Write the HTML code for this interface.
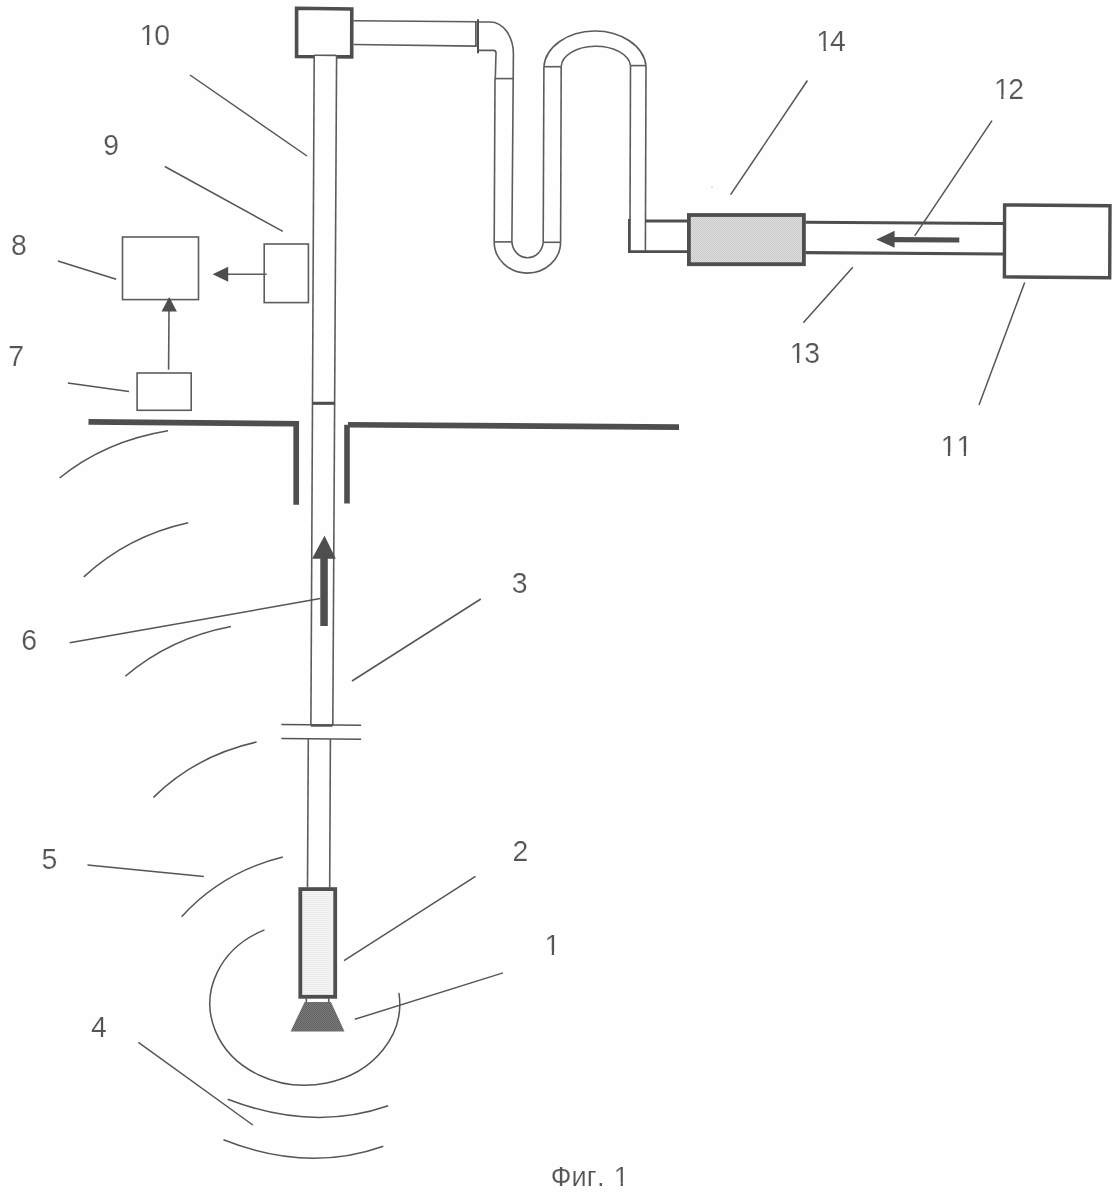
<!DOCTYPE html>
<html lang="ru">
<head>
<meta charset="utf-8">
<title>Фиг. 1</title>
<style>
html,body{margin:0;padding:0;background:#fefefe;}
body{width:1116px;height:1193px;overflow:hidden;}
svg{display:block;will-change:transform;}
text{font-family:"Liberation Sans",sans-serif;fill:#555;stroke:#fefefe;stroke-width:0.2px;stroke-linejoin:bevel;}
.n{font-size:29.3px;}
.c{font-size:27.2px;}
.t{fill:none;stroke:#5c5c5c;stroke-width:1.6;stroke-linecap:butt;}
.l{fill:none;stroke:#555;stroke-width:1.5;}
.k{fill:none;stroke:#4e4e4e;}
</style>
</head>
<body>
<svg width="1116" height="1193" viewBox="0 0 1116 1193">
<defs>
<pattern id="stA" width="2" height="2" patternUnits="userSpaceOnUse"><rect width="2" height="2" fill="#dedede"/><rect width="1" height="1" fill="#cacaca"/><rect x="1" y="1" width="1" height="1" fill="#cacaca"/></pattern>
<pattern id="stB" width="2" height="2" patternUnits="userSpaceOnUse"><rect width="2" height="2" fill="#f4f4f4"/><rect width="2" height="1" fill="#ececec"/></pattern>
<pattern id="stC" width="2" height="2" patternUnits="userSpaceOnUse"><rect width="2" height="2" fill="#7c7c7c"/><rect width="1" height="1" fill="#606060"/><rect x="1" y="1" width="1" height="1" fill="#606060"/></pattern>
</defs>
<rect width="1116" height="1193" fill="#fefefe"/>

<!-- ===== top box ===== -->
<g id="topbox">
<polygon points="296.6,8.3 351.8,9 351.7,56.9 296.6,56.5" class="k" stroke-width="3.6"/>
</g>

<!-- ===== vertical pipe 10 / 3 ===== -->
<g id="vpipe">
<polygon points="314,55.6 336.4,55.6 334.8,403 312,403" fill="#fefefe"/><line x1="314" y1="55.2" x2="336.4" y2="55.4" class="t" stroke-width="1.2"/>
<line x1="314.2" y1="55" x2="310.9" y2="725" class="t"/>
<line x1="336.6" y1="55" x2="332.8" y2="725" class="t"/>
<line x1="312" y1="403.3" x2="335" y2="403.3" class="k" stroke-width="3.1"/>
<line x1="310.8" y1="725.5" x2="332.7" y2="725.5" class="k" stroke-width="2.4"/>
<line x1="281.4" y1="724.4" x2="361.1" y2="725.2" class="l"/>
<line x1="281.4" y1="738.6" x2="361.1" y2="739.3" class="l"/>
<line x1="308.3" y1="739" x2="307.5" y2="887.5" class="t"/>
<line x1="330.4" y1="739" x2="329.7" y2="887.5" class="t"/>
</g>

<!-- ===== hose ===== -->
<g id="hose">
<line x1="353.6" y1="20.8" x2="476.4" y2="21.8" class="t"/>
<line x1="353.6" y1="44.5" x2="476.4" y2="46.1" class="t"/>
<line x1="475.9" y1="21" x2="475.9" y2="46.8" class="k" stroke-width="1.6"/><line x1="478" y1="19.3" x2="478" y2="53.3" class="k" stroke-width="2"/>
<path d="M478.5,22 L490.2,22 A23.2,31.8 0 0 1 513.4,53.8 L513.2,78.6 L511.9,241.9" class="t"/>
<path d="M478.5,50.4 L493.6,50.4 Q496,50.4 496,53 L495.3,78.5" class="t"/>
<line x1="494.7" y1="78.6" x2="513.2" y2="78.6" class="t" stroke-width="1.3"/>
<line x1="495" y1="78.5" x2="494.2" y2="242" class="t"/>
<line x1="494.2" y1="241.9" x2="511.9" y2="241.9" class="t" stroke-width="1.3"/>
<path d="M494.2,241.9 A33.2,31 0 0 0 560.6,242.3" class="t"/>
<path d="M511.9,241.9 A15.7,17 0 0 0 543.2,242.3" class="t"/>
<line x1="543.2" y1="242.3" x2="560.6" y2="242.3" class="t" stroke-width="1.3"/>
<line x1="543.2" y1="242.3" x2="543.9" y2="66.7" class="t"/>
<line x1="560.6" y1="242.3" x2="561.2" y2="66.7" class="t"/>
<line x1="543.9" y1="66.7" x2="561.2" y2="66.7" class="t" stroke-width="1.3"/>
<path d="M543.9,66.7 A51.2,38 0 0 1 646,65.6" class="t"/>
<path d="M561.2,66.7 A34.7,20.9 0 0 1 630.5,65.6" class="t"/>
<line x1="630.5" y1="65.6" x2="646" y2="65.6" class="t" stroke-width="1.3"/>
<line x1="630.5" y1="65.6" x2="630" y2="220" class="t"/>
<line x1="646" y1="65.6" x2="645.4" y2="251" class="t"/>
<path d="M629.4,219 L629.4,251.6 L688,251.6" class="k" stroke-width="2.8"/>
<line x1="645.4" y1="220.9" x2="688" y2="220.9" class="k" stroke-width="3"/>
</g>

<!-- ===== filter 14, pipe 13, box 11 ===== -->
<g id="right">
<rect x="688.9" y="215" width="115" height="49.2" fill="url(#stA)" stroke="#4e4e4e" stroke-width="3.8"/>
<line x1="805.5" y1="222.3" x2="1003" y2="223.5" class="k" stroke-width="3.1"/>
<line x1="805.5" y1="252.6" x2="1003" y2="254" class="k" stroke-width="3.1"/>
<polygon points="1004.6,204.9 1110,205.8 1109.7,277.8 1004.4,276.9" fill="none" stroke="#4e4e4e" stroke-width="3.4"/>
<polygon points="876.3,239.4 894.6,230.8 894.6,236.9 959.3,237.4 959.3,242.6 894.6,242.2 894.6,247.8" fill="#4e4e4e"/>
</g>

<!-- ===== ground ===== -->
<g id="ground">
<path d="M88.5,421.8 L296.2,423.7 L296.2,504.7" class="k" stroke-width="5.7" stroke-linejoin="miter"/>
<line x1="347" y1="424.8" x2="347" y2="503.5" class="k" stroke-width="5.6"/><line x1="348" y1="424.7" x2="679" y2="427.1" class="k" stroke-width="5.6"/>
</g>

<!-- ===== big up arrow 6 ===== -->
<polygon points="324.5,535.7 335.8,558.8 327.8,558.8 327.8,626 320.3,626 320.3,558.8 312,558.8" fill="#4e4e4e"/>

<!-- ===== small boxes 7,8,9 ===== -->
<g id="boxes">
<rect x="122.5" y="237" width="76" height="62.6" class="t"/>
<rect x="264.2" y="244" width="44.2" height="58.6" class="t"/>
<rect x="137.1" y="373" width="54.1" height="37.3" class="t"/>
<line x1="228" y1="274.2" x2="266.7" y2="274.2" class="t" stroke-width="1.5"/>
<polygon points="212.6,274.2 228.2,266.7 228.2,281.8" fill="#4e4e4e"/>
<line x1="169" y1="311" x2="168.6" y2="369.8" class="t" stroke-width="1.5"/>
<polygon points="169.2,296.9 176.9,311.4 161.5,311.4" fill="#4e4e4e"/>
</g>

<!-- ===== motor 2 and bit 1 ===== -->
<g id="motor">
<rect x="300.3" y="889.1" width="34.9" height="107.7" fill="url(#stB)" stroke="#4e4e4e" stroke-width="3.8"/>
<line x1="306.3" y1="998" x2="306.3" y2="1003" class="t"/>
<line x1="328.7" y1="998" x2="328.7" y2="1003" class="t"/>
<polygon points="304.6,1001.9 330.9,1001.9 344.5,1031.4 290.6,1031.4" fill="url(#stC)"/>
</g>

<!-- ===== formation arcs ===== -->
<g id="arcs">
<path d="M168,430.7 Q105,441 59.6,478" class="l"/>
<path d="M188.2,522.8 Q128,536 83.8,576.9" class="l"/>
<path d="M231,626.4 Q170,638 125.3,676.2" class="l"/>
<path d="M256.6,742 Q195,756 153.5,797.4" class="l"/>
<path d="M282.8,857 Q222,872 181.6,916.7" class="l"/>
<path d="M264.5,929.9 A94.9,81.5 0 1 0 398.9,992.9" class="l"/>
<path d="M227.7,1099.3 Q313,1132 388.2,1105.8" class="l"/>
<path d="M223.5,1139.8 Q307.5,1173.2 383.3,1146.2" class="l"/>
</g>

<circle id="speck" cx="712" cy="187.2" r="0.8" fill="#c4c4c4"/>

<!-- ===== leader lines ===== -->
<g id="leaders">
<line x1="190" y1="75" x2="307" y2="156" class="l"/>
<line x1="164.8" y1="166.5" x2="282.8" y2="231.4" class="l"/>
<line x1="57.9" y1="261" x2="116.2" y2="279.2" class="l"/>
<line x1="67.9" y1="382.9" x2="129" y2="391.4" class="l"/>
<line x1="69.7" y1="642.8" x2="320.3" y2="598.6" class="l"/>
<line x1="87.5" y1="865" x2="203.8" y2="876.4" class="l"/>
<line x1="138.4" y1="1042.3" x2="252.8" y2="1125" class="l"/>
<line x1="480.8" y1="599" x2="352" y2="681" class="l"/>
<line x1="475.5" y1="876.3" x2="344" y2="960.7" class="l"/>
<line x1="503" y1="972.9" x2="354.8" y2="1019.3" class="l"/>
<line x1="807.4" y1="80.5" x2="730.6" y2="194.7" class="l"/>
<line x1="992" y1="120.6" x2="914.7" y2="235.8" class="l"/>
<line x1="852.8" y1="267.2" x2="803.3" y2="322.8" class="l"/>
<line x1="1024.7" y1="282.4" x2="979" y2="405" class="l"/>
</g>

<!-- ===== labels ===== -->
<g id="labels" class="n" transform="scale(0.97,1)">
<text x="106.42" y="154.95">9</text>
<text x="11.48" y="254.55">8</text>
<text x="8.64" y="366.10">7</text>
<text x="22.02" y="650.15">6</text>
<text x="42.73" y="868.85">5</text>
<text x="93.83" y="1037.30">4</text>
<text x="527.68" y="592.85">3</text>
<text x="528.39" y="861.40">2</text>
<text x="561.40" y="955.10">1</text>
<text x="143.97 158.95" y="45.45">10</text>
<text x="969.75 986.14" y="456.10">11</text>
<text x="1024.69 1039.53" y="98.80">12</text>
<text x="814.18 829.18" y="363.35">13</text>
<text x="841.60 855.79" y="51.20">14</text>
</g>
<text class="c" x="550.77 571.61 586.83 597.06 606.00 613.78" y="1186.20">Фиг. 1</text>
<g id="trim" fill="#fefefe">
<rect x="545.47" y="951.10" width="6.29" height="5"/><rect x="554.05" y="951.10" width="6.17" height="5"/>
<rect x="140.57" y="41.45" width="6.29" height="5"/><rect x="149.15" y="41.45" width="6.17" height="5"/>
<rect x="941.57" y="452.10" width="6.29" height="5"/><rect x="950.15" y="452.10" width="6.17" height="5"/>
<rect x="957.47" y="452.10" width="6.29" height="5"/><rect x="966.05" y="452.10" width="6.17" height="5"/>
<rect x="994.87" y="94.80" width="6.29" height="5"/><rect x="1003.45" y="94.80" width="6.17" height="5"/>
<rect x="790.67" y="359.35" width="6.29" height="5"/><rect x="799.25" y="359.35" width="6.17" height="5"/>
<rect x="817.27" y="47.20" width="6.29" height="5"/><rect x="825.85" y="47.20" width="6.17" height="5"/>
<rect x="614.64" y="1182.40" width="6.04" height="4.8"/><rect x="622.92" y="1182.40" width="5.92" height="4.8"/>
</g>
</svg>
</body>
</html>
